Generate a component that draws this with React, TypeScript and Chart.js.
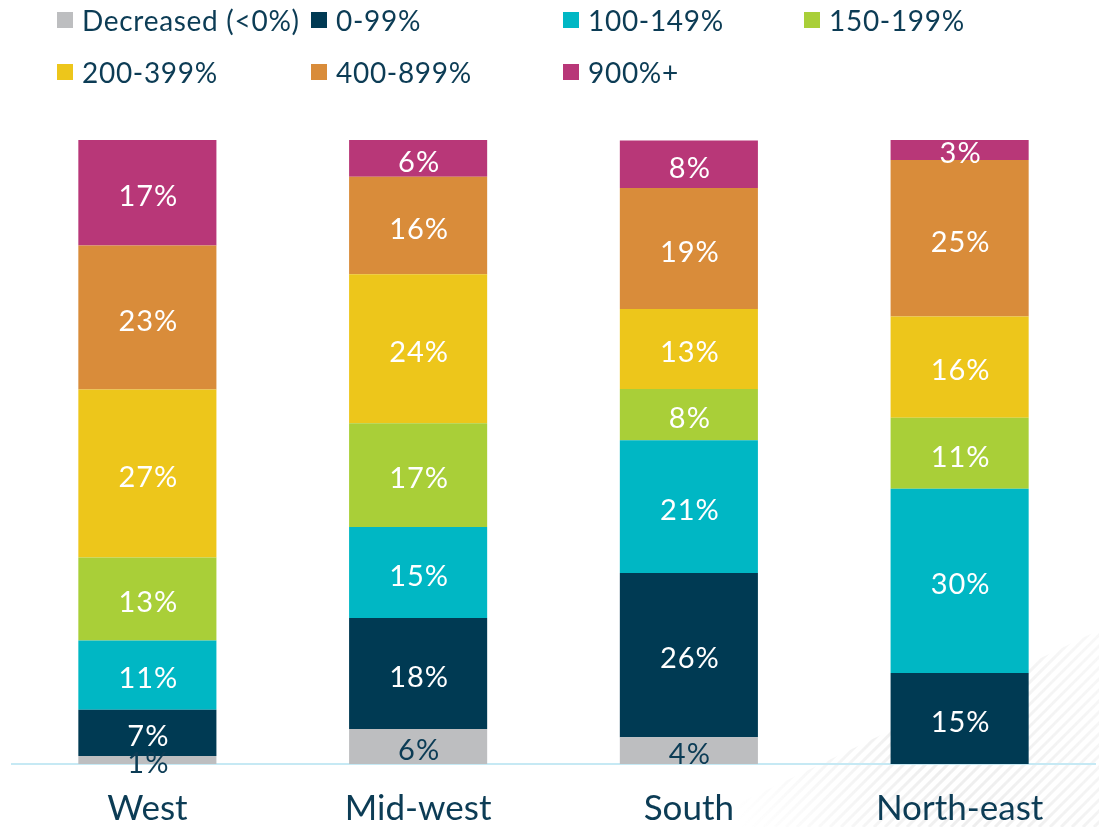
import React, { useEffect, useRef } from "react";
import { Chart, registerables } from "chart.js";

Chart.register(...registerables);

const categories = ["West", "Mid-west", "South", "North-east"];
const seriesNames = ["Decreased (<0%)", "0-99%", "100-149%", "150-199%", "200-399%", "400-899%", "900%+"];
const seriesColors = ["#bdbec0", "#003a53", "#00b7c4", "#a9cf38", "#edc61b", "#d98c3a", "#b83778"];

const decreased = [1.3, 5.6, 4.3, 0];
const pct0to99 = [7.4, 17.8, 26.3, 14.6];
const pct100to149 = [11.1, 14.6, 21.3, 29.5];
const pct150to199 = [13.3, 16.6, 8.2, 11.4];
const pct200to399 = [26.9, 23.9, 12.8, 16.2];
const pct400to899 = [23.1, 15.6, 19.4, 25.1];
const pct900plus = [16.9, 5.9, 7.6, 3.2];

const seriesValues = [decreased, pct0to99, pct100to149, pct150to199, pct200to399, pct400to899, pct900plus];

const TEXT = "#0c3c55";
const FONT = "Lato, 'Open Sans', sans-serif";

const hatchPlugin = {
  id: "hatch",
  beforeDraw(chart: any) {
    const ctx = chart.ctx;
    const W = chart.width;
    const H = chart.height;
    ctx.save();
    ctx.beginPath();
    ctx.moveTo(W, 630);
    ctx.lineTo(W, H);
    ctx.lineTo(690, H);
    ctx.closePath();
    ctx.clip();
    const grad = ctx.createLinearGradient(740, H, W, 640);
    grad.addColorStop(0, "rgba(205,205,205,0)");
    grad.addColorStop(0.5, "rgba(205,205,205,0.35)");
    grad.addColorStop(1, "rgba(205,205,205,0.15)");
    ctx.strokeStyle = grad;
    ctx.lineWidth = 3;
    for (let x = 500; x < W + 300; x += 11) {
      ctx.beginPath();
      ctx.moveTo(x, H);
      ctx.lineTo(x + 250, H - 250);
      ctx.stroke();
    }
    ctx.restore();
  },
};

const labelPlugin = {
  id: "segLabels",
  afterDatasetsDraw(chart: any) {
    const ctx = chart.ctx;
    ctx.save();
    ctx.font = `29px ${FONT}`;
    try {
      (ctx as any).letterSpacing = "1px";
    } catch (e) {}
    ctx.textAlign = "center";
    ctx.textBaseline = "middle";
    chart.data.datasets.forEach((ds: any, di: number) => {
      const meta = chart.getDatasetMeta(di);
      meta.data.forEach((bar: any, i: number) => {
        const v = ds.data[i];
        if (!v) return;
        const { x, y, base } = bar.getProps(["x", "y", "base"], true);
        ctx.fillStyle = di === 0 ? TEXT : "#ffffff";
        ctx.fillText(`${Math.round(v)}%`, x + 1, (y + base) / 2 + 4);
      });
    });
    try {
      (ctx as any).letterSpacing = "0px";
    } catch (e) {}
    ctx.restore();
  },
};

function Legend() {
  const lefts = [57, 311, 563, 804];
  const tops = [12, 64];
  return (
    <>
      {seriesNames.map((name, i) => {
        const col = i < 4 ? i : i - 4;
        const row = i < 4 ? 0 : 1;
        return (
          <div
            key={name}
            style={{
              position: "absolute",
              left: lefts[col],
              top: tops[row] - 10,
              height: 36,
              display: "flex",
              alignItems: "center",
              fontFamily: FONT,
              fontSize: 28,
              letterSpacing: "0.7px",
              color: TEXT,
              whiteSpace: "nowrap",
            }}
          >
            <span
              style={{
                display: "inline-block",
                width: 16,
                height: 16,
                background: seriesColors[i],
                marginRight: 9,
              }}
            />
            <span>{name}</span>
          </div>
        );
      })}
    </>
  );
}

export default function App() {
  const ref = useRef<HTMLCanvasElement | null>(null);
  useEffect(() => {
    if (!ref.current) return;
    const chart = new Chart(ref.current, {
      type: "bar",
      data: {
        labels: categories,
        datasets: seriesNames.map((name, i) => ({
          label: name,
          data: seriesValues[i],
          backgroundColor: seriesColors[i],
          borderWidth: 0,
          barPercentage: 0.51,
          categoryPercentage: 1,
        })),
      },
      options: {
        animation: false,
        responsive: true,
        maintainAspectRatio: false,
        layout: { padding: { top: 140, left: 12, right: 4, bottom: 0 } },
        plugins: {
          legend: { display: false },
          tooltip: { enabled: false },
        },
        scales: {
          x: {
            stacked: true,
            grid: { display: false, drawTicks: false },
            border: { display: true, color: "#c6e9f4", width: 2 },
            ticks: {
              color: TEXT,
              font: { family: FONT, size: 35 },
              padding: 24,
            },
            afterFit(scale: any) {
              scale.height = 63;
            },
          },
          y: {
            stacked: true,
            display: false,
            min: 0,
            max: 100,
          },
        },
      },
      plugins: [hatchPlugin, labelPlugin],
    });
    return () => chart.destroy();
  }, []);

  return (
    <div style={{ position: "absolute", left: 0, top: 0, width: 1099, height: 827, background: "#fff" }}>
      <canvas ref={ref} />
      <Legend />
    </div>
  );
}
